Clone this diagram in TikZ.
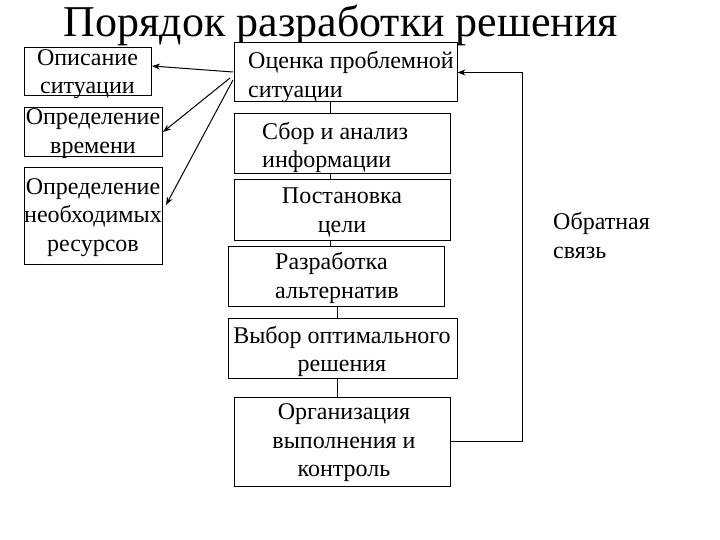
\documentclass[tikz,border=0pt]{standalone}
\usepackage{fontspec}
\setmainfont{Liberation Serif}
\usetikzlibrary{arrows.meta}
\tikzset{
  box/.style={draw, line width=1pt, inner sep=0pt, fill=white},
  txt/.style={inner sep=0pt, font=\fontsize{24}{28.5}\selectfont},
  conn/.style={line width=1pt},
  arr/.style={line width=1pt, -{Stealth[length=8pt,width=6pt]}}
}
\begin{document}
\begin{tikzpicture}[x=1pt,y=-1pt]
\useasboundingbox (0,0) rectangle (720,540);
% title
\node[inner sep=0pt, anchor=base, font=\fontsize{44}{50}\selectfont] (title) at (341,37) {Порядок разработки решения};
% center boxes
\node[box, minimum width=223pt, minimum height=59pt] (A) at (345.5,72.5) {};
\node[box, minimum width=216pt, minimum height=60pt] (B) at (342,144) {};
\node[box, minimum width=216pt, minimum height=60pt] (C) at (342,210) {};
\node[box, minimum width=216pt, minimum height=60pt] (D) at (336,276) {};
\node[box, minimum width=229pt, minimum height=60pt] (E) at (342.5,348) {};
\node[box, minimum width=216pt, minimum height=89pt] (F) at (342,441.5) {};
% left boxes
\node[box, minimum width=127pt, minimum height=48pt] (L1) at (87.5,72) {};
\node[box, minimum width=138pt, minimum height=49pt] (L2) at (93,132.5) {};
\node[box, minimum width=138pt, minimum height=96pt] (L3) at (93,216) {};
% texts
\node[txt, align=left, anchor=west] (tA) at (248,77) {Оценка проблемной\\ситуации};
\node[txt, align=left, anchor=west] (tB) at (262,147.5) {Сбор и анализ\\информации};
\node[txt, align=center] (tC) at (342,212.5) {Постановка\\цели};
\node[txt, align=left, anchor=west] (tD) at (275,278) {Разработка\\альтернатив};
\node[txt, align=center] (tE) at (342,351.5) {Выбор оптимального\\решения};
\node[txt, align=center] (tF) at (344,443) {Организация\\выполнения и\\контроль};
\node[txt, align=center] (t1) at (87.5,74) {Описание\\ситуации};
\node[txt, align=center] (t2) at (93,133.5) {Определение\\времени};
\node[txt, align=center] (t3) at (93,217.5) {Определение\\необходимых\\ресурсов};
\node[txt, align=left, anchor=west] (fbt) at (553,235.5) {Обратная\\связь};
% vertical connectors
\coordinate (c1) at (330,0);
\coordinate (c2) at (337,0);
\coordinate (fb) at (522,0);
\draw[conn] (A.south -| c1) -- (B.north -| c1);
\draw[conn] (B.south -| c1) -- (C.north -| c1);
\draw[conn] (C.south -| c1) -- (D.north -| c1);
\draw[conn] (D.south -| c2) -- (E.north -| c2);
\draw[conn] (E.south -| c2) -- (F.north -| c2);
% feedback
\draw[arr] (F.east) -- (F.east -| fb) -- (A.east -| fb) -- (A.east);
% arrows to left boxes
\coordinate (o1) at (233,72);
\coordinate (o2) at (230,78);
\coordinate (o3) at (233,80);
\coordinate (e1) at (152,66);
\coordinate (e2) at (163,132);
\coordinate (e3) at (166,205);
\draw[arr] (o1) -- (e1);
\draw[arr] (o2) -- (e2);
\draw[arr] (o3) -- (e3);
\end{tikzpicture}
\end{document}
